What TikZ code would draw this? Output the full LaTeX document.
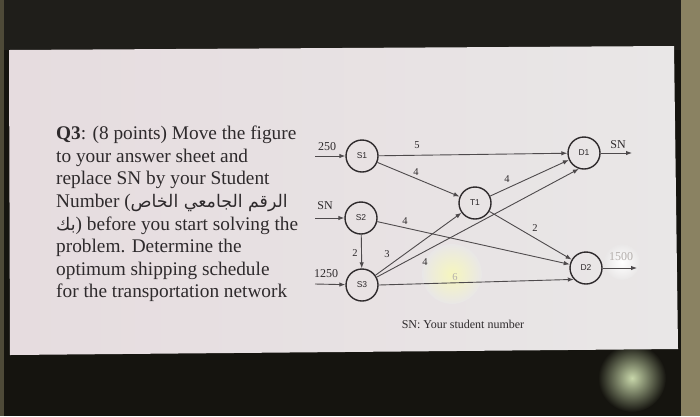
\documentclass[tikz,border=0pt]{standalone}
\usepackage{fontspec}
\setmainfont{Liberation Serif}
\newfontfamily\arabicfont[Script=Arabic,Scale=0.9]{DejaVu Sans}
\newfontfamily\labsans{Liberation Sans}
\TeXXeTstate=1
\usetikzlibrary{arrows.meta}
\definecolor{topdark}{HTML}{1F1E1A}
\definecolor{botdark}{HTML}{15140F}
\definecolor{olivestrip}{HTML}{8A8262}
\definecolor{leftstrip}{HTML}{4E4A38}
\definecolor{panelL}{HTML}{E6DCDF}
\definecolor{panelR}{HTML}{E9E7E7}
\definecolor{ink}{HTML}{2E2A2C}
\definecolor{linegray}{HTML}{4E4A4C}
\definecolor{faint}{HTML}{B4AFAC}
\definecolor{greenglow}{RGB}{200,215,170}
\definecolor{yellowglow}{RGB}{246,246,190}
\begin{document}
\begin{tikzpicture}[x=1pt,y=-1pt,
  nd/.style={circle,draw=ink,line width=1.4pt,minimum size=32pt,inner sep=0pt,
    font=\labsans\fontsize{8.5}{9}\selectfont,text=ink},
  flow/.style={draw=linegray,line width=0.9pt,-{Latex[length=6pt,width=4.5pt]}},
  wt/.style={font=\fontsize{10.5}{11}\selectfont,text=ink,inner sep=0pt},
  supply/.style={font=\fontsize{12}{13}\selectfont,text=ink,inner sep=0pt},
]
\useasboundingbox (0,0) rectangle (700,416);
% photo background
\fill[botdark] (0,0) rectangle (700,416);
\fill[topdark] (0,0) rectangle (700,50);
\shade[inner color=greenglow,outer color=botdark] (632,378) circle (34);
\fill[leftstrip] (0,0) rectangle (4,416);
\fill[olivestrip] (681,0) rectangle (700,416);
\shade[left color=panelL,right color=panelR] (9,50) -- (674,46) -- (678,349) -- (10,355) -- cycle;
% glare
\shade[inner color=yellowglow,outer color=panelR] (452,274) circle (30);
\shade[inner color=white,outer color=panelR] (622,262) circle (18);

% question text
\node[anchor=north west,inner sep=0pt,align=left,text=ink,
  font=\fontsize{19.3}{22.6}\selectfont] (q) at (56,126)
  {\textbf{Q3}: (8 points) Move the figure\\
   to your answer sheet and\\
   replace SN by your Student\\
   Number ({\arabicfont\beginR الرقم الجامعي الخاص\endR}\\
   {\arabicfont\beginR بك\endR}) before you start solving the\\
   problem. Determine the\\
   optimum shipping schedule\\
   for the transportation network};

% network nodes
\node[nd] (S1) at (362,156) {S1};
\node[nd] (S2) at (361,218) {S2};
\node[nd] (S3) at (362,285) {S3};
\node[nd] (T1) at (475,203) {T1};
\node[nd] (D1) at (584,153) {D1};
\node[nd] (D2) at (586,268) {D2};

\coordinate (in1) at (315,156);
\coordinate (in2) at (315,218);
\coordinate (in3) at (315,284);
\coordinate (out1) at (632,153);
\coordinate (out2) at (637,268);

\draw[flow] (in1) -- (S1);
\draw[flow] (in2) -- (S2);
\draw[flow] (in3) -- (S3);
\draw[flow] (S1) -- (D1);
\draw[flow] (S1) -- (T1);
\draw[flow] (S2) -- (D2);
\draw[flow] (S2) -- (S3);
\draw[flow] (S3) -- (T1);
\draw[flow] (S3) -- (D1.252);
\draw[flow] (S3.east) -- (D2.223);
\draw[flow] (T1) -- (D1);
\draw[flow] (T1) -- (D2);
\draw[flow] (D1) -- (out1);
\draw[flow] (D2) -- (out2);

% supply / demand labels
\node[supply] (l250) at (327,147) {250};
\node[supply] (lsn2) at (325,206) {SN};
\node[supply] (l1250) at (326,274) {1250};
\node[supply] (lsnd1) at (618,145) {SN};
\node[supply,text=faint] (l1500) at (621,257) {1500};

% weights
\node[wt] (w1) at (417,145) {5};
\node[wt] (w2) at (416,172) {4};
\node[wt] (w3) at (405,221) {4};
\node[wt] (w4) at (355,253) {2};
\node[wt] (w5) at (387,254) {3};
\node[wt] (w6) at (425,262) {4};
\node[wt] (w7) at (507,179) {4};
\node[wt] (w8) at (535,228) {2};
\node[wt,text=faint] (w9) at (455,277) {6};

\node[font=\fontsize{12}{13}\selectfont,text=ink,inner sep=0pt] (note) at (463,324) {SN: Your student number};
\end{tikzpicture}
\end{document}
